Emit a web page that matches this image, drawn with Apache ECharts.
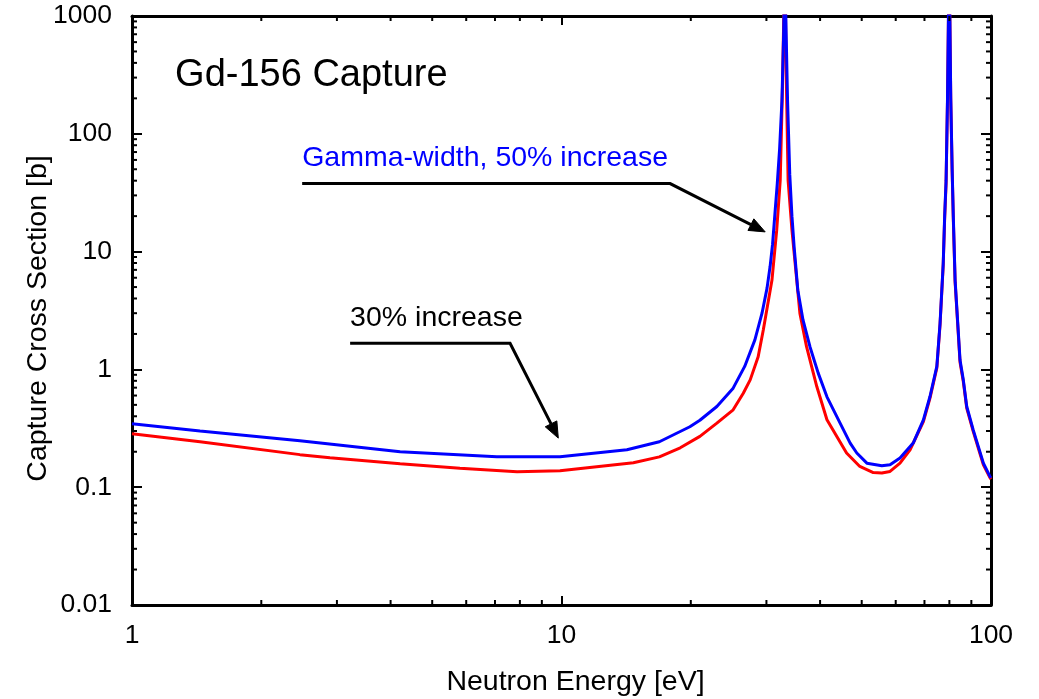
<!DOCTYPE html>
<html><head><meta charset="utf-8">
<script src="https://cdn.jsdelivr.net/npm/echarts@6/dist/echarts.min.js"></script>
<style>html,body{margin:0;padding:0;background:#fff}#c{width:1039px;height:699px}</style>
</head><body><div id="c"></div>
<script>
// ---- data ----
const redEnergy = [1, 1.44, 2.46, 2.89, 4.21, 5.8, 7.88, 9.92, 14.7, 16.9, 18.9, 21.0, 23.0, 25.1, 26.5, 27.5, 28.7, 29.5, 30.9, 31.7, 32.3, 32.7, 33.1, 33.4, 33.7, 34.4, 35.3, 35.9, 37.2, 39.3, 41.5, 46.1, 49.5, 53.2, 55.7, 58.2, 61.4, 64.8, 69.6, 72.1, 74.8, 76.1, 77.4, 78.0, 78.6, 79.2, 79.6, 79.9, 80.2, 80.6, 81.2, 81.7, 82.5, 84.7, 86.2, 87.8, 90.9, 93.4, 96.0, 99.5, 100];
const redXS = [0.284, 0.243, 0.189, 0.178, 0.158, 0.145, 0.135, 0.138, 0.161, 0.181, 0.216, 0.27, 0.35, 0.454, 0.628, 0.815, 1.28, 2.16, 5.7, 15.2, 40, 250, 3000, 250, 40, 15.2, 5.7, 2.99, 1.56, 0.715, 0.374, 0.195, 0.15, 0.133, 0.132, 0.136, 0.16, 0.208, 0.36, 0.57, 1.03, 2.4, 7.7, 19, 38, 190, 950, 3000, 950, 190, 48, 19, 5.5, 1.15, 0.79, 0.47, 0.298, 0.215, 0.155, 0.12, 0.117];
const blueEnergy = [1, 1.44, 2.46, 4.21, 7.07, 9.92, 14.2, 16.9, 19.9, 21.0, 23.0, 25.1, 26.7, 28.2, 29.3, 30.1, 30.6, 31.0, 31.4, 31.8, 32.2, 32.6, 32.9, 33.1, 33.35, 33.6, 34.0, 34.4, 34.8, 35.5, 36.5, 37.9, 39.6, 41.5, 44.5, 47.0, 48.7, 51.4, 55.7, 58.2, 61.4, 65.9, 69.6, 72.1, 74.8, 76.1, 77.4, 78.0, 78.6, 79.2, 79.6, 79.9, 80.2, 80.6, 81.2, 81.7, 82.5, 84.7, 86.2, 87.8, 90.9, 93.4, 96.0, 99.5, 100];
const blueXS = [0.345, 0.30, 0.248, 0.20, 0.181, 0.181, 0.208, 0.243, 0.326, 0.37, 0.484, 0.693, 1.06, 1.78, 3.0, 4.9, 7.5, 11.5, 21, 38, 75, 190, 700, 3000, 700, 190, 45, 20, 11, 4.7, 2.63, 1.55, 0.93, 0.585, 0.352, 0.237, 0.195, 0.16, 0.152, 0.155, 0.177, 0.237, 0.373, 0.589, 1.06, 2.46, 7.9, 20, 40, 200, 1000, 3000, 1000, 200, 50, 20, 5.7, 1.2, 0.815, 0.484, 0.307, 0.222, 0.16, 0.123, 0.12];

const xTickLabels = ['1', '10', '100'];
const yTickLabels = ['0.01', '0.1', '1', '10', '100', '1000'];
const xMinorTicks = [2, 3, 4, 5, 6, 7, 8, 9, 20, 30, 40, 50, 60, 70, 80, 90];
const yMinorTicks = [0.02, 0.03, 0.04, 0.05, 0.06, 0.07, 0.08, 0.09, 0.2, 0.3, 0.4, 0.5, 0.6, 0.7, 0.8, 0.9,
  2, 3, 4, 5, 6, 7, 8, 9, 20, 30, 40, 50, 60, 70, 80, 90, 200, 300, 400, 500, 600, 700, 800, 900];

const titleText = 'Gd-156 Capture';
const titleAt = [1.26, 313];
const note1Text = 'Gamma-width, 50% increase';
const note1At = [2.49, 62];
const note1Path = [[2.49, 37.8], [17.9, 37.8], [29.8, 14.7]];
const note2Text = '30% increase';
const note2At = [3.22, 2.73];
const note2Path = [[3.22, 1.667], [7.59, 1.667], [9.83, 0.261]];

(function () {
const FONT = '"Liberation Sans", Arial, Helvetica, sans-serif';
const chart = echarts.init(document.getElementById('c'), null, { renderer: 'canvas' });
const zip = (a, b) => a.map((v, i) => [v, b[i]]);

function makeAxis(isX, pos, main) {
  const ax = {
    type: 'log', logBase: 10,
    min: isX ? 1 : 0.01, max: isX ? 100 : 1000,
    position: pos,
    axisLine: { show: true, onZero: false, lineStyle: { color: '#000', width: 3 } },
    axisTick: { show: true, inside: true, length: isX ? 9 : 10, lineStyle: { color: '#000', width: 2 } },
    minorTick: { show: false },
    splitLine: { show: false },
    minorSplitLine: { show: false },
    axisLabel: {
      show: main, color: '#000', fontFamily: FONT, fontSize: 26.5,
      margin: isX ? 17 : 20, showMinLabel: true, showMaxLabel: true, hideOverlap: false,
      formatter: function (v) {
        const k = Math.round(Math.log10(v));
        return isX ? (xTickLabels[k] || '') : (yTickLabels[k + 2] || '');
      }
    }
  };
  if (main) {
    ax.name = isX ? 'Neutron Energy [eV]' : 'Capture Cross Section [b]';
    ax.nameLocation = 'middle';
    ax.nameGap = isX ? 63 : 79;
    ax.nameMoveOverlap = false;
    ax.nameTextStyle = { color: '#000', fontFamily: FONT, fontSize: 28.5,
      padding: isX ? [0, 0, 0, 28] : [0, 16, 0, 0] };
  }
  return ax;
}

const option = {
  animation: false,
  backgroundColor: '#fff',
  grid: { left: 132, right: 48, top: 16, bottom: 94, containLabel: false, outerBoundsMode: 'none' },
  xAxis: [makeAxis(true, 'bottom', true), makeAxis(true, 'top', false)],
  yAxis: [makeAxis(false, 'left', true), makeAxis(false, 'right', false)],
  series: [
    { type: 'line', name: 'base', data: zip(redEnergy, redXS), xAxisIndex: 0, yAxisIndex: 0,
      showSymbol: false, symbol: 'none', clip: true, lineStyle: { color: '#ff0000', width: 3 }, z: 2 },
    { type: 'line', name: 'increased', data: zip(blueEnergy, blueXS), xAxisIndex: 0, yAxisIndex: 0,
      showSymbol: false, symbol: 'none', clip: true, lineStyle: { color: '#0000ff', width: 3 }, z: 3 }
  ]
};
chart.setOption(option);

const toPx = p => chart.convertToPixel({ xAxisIndex: 0, yAxisIndex: 0 }, p);
const pl = toPx([1, 1])[0], pr = toPx([100, 1])[0];
const pb = toPx([1, 0.01])[1], pt = toPx([1, 1000])[1];
const g = [];
const tickStyle = { stroke: '#000', lineWidth: 2 };
xMinorTicks.forEach(v => {
  const x = toPx([v, 1])[0];
  g.push({ type: 'line', shape: { x1: x, y1: pb, x2: x, y2: pb - 5 }, style: tickStyle, z: 10 });
  g.push({ type: 'line', shape: { x1: x, y1: pt, x2: x, y2: pt + 5 }, style: tickStyle, z: 10 });
});
yMinorTicks.forEach(v => {
  const y = toPx([1, v])[1];
  g.push({ type: 'line', shape: { x1: pl, y1: y, x2: pl + 5, y2: y }, style: tickStyle, z: 10 });
  g.push({ type: 'line', shape: { x1: pr, y1: y, x2: pr - 5, y2: y }, style: tickStyle, z: 10 });
});

function arrow(path) {
  const pts = path.map(toPx);
  const n = pts.length;
  const tip = pts[n - 1], prev = pts[n - 2];
  const dx = tip[0] - prev[0], dy = tip[1] - prev[1];
  const L = Math.hypot(dx, dy), ux = dx / L, uy = dy / L;
  const len = 16, hw = 6.5;
  const base = [tip[0] - ux * len, tip[1] - uy * len];
  const linePts = pts.slice(0, n - 1).concat([base]);
  g.push({ type: 'polyline', shape: { points: linePts }, style: { stroke: '#000', lineWidth: 3, fill: null }, z: 10 });
  g.push({ type: 'polygon', shape: { points: [tip, [base[0] - uy * hw, base[1] + ux * hw], [base[0] + uy * hw, base[1] - ux * hw]] },
    style: { fill: '#000', stroke: '#000', lineWidth: 1 }, z: 10 });
}
arrow(note1Path);
arrow(note2Path);

function label(text, at, size, color) {
  const p = toPx(at);
  g.push({ type: 'text', x: p[0], y: p[1], z: 10,
    style: { text: text, fill: color, font: size + 'px ' + FONT, align: 'left', verticalAlign: 'middle' } });
}
label(titleText, titleAt, 38, '#000');
label(note1Text, note1At, 28.5, '#0000ff');
label(note2Text, note2At, 28.5, '#000');

chart.setOption({ graphic: { elements: g } });
})();
</script>
</body></html>
